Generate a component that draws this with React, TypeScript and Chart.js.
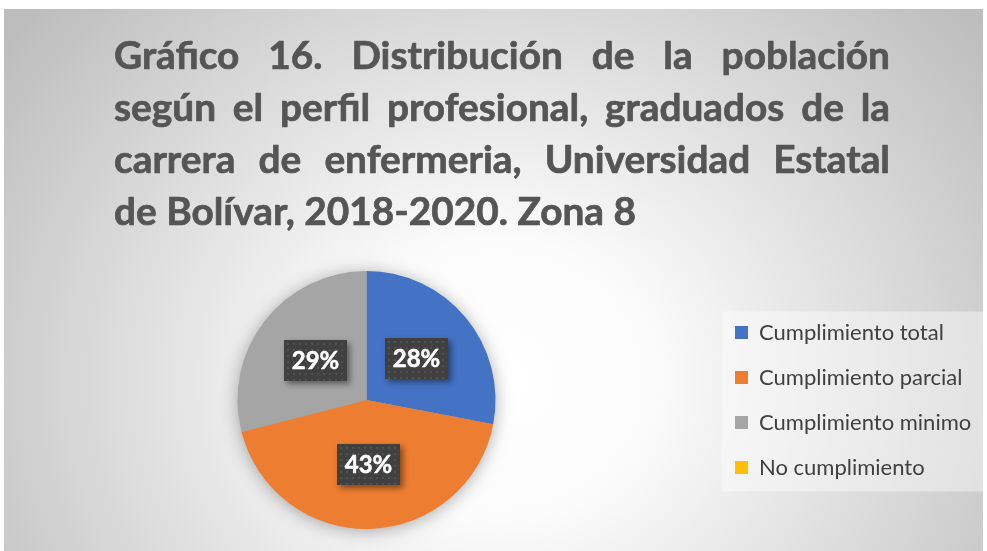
import React, { useEffect, useRef } from 'react';
import { Chart, registerables } from 'chart.js';

Chart.register(...registerables);

const categories = ['Cumplimiento total', 'Cumplimiento parcial', 'Cumplimiento minimo', 'No cumplimiento'];
const percentages = [28, 43, 29, 0];
const sliceColors = ['#4472C4', '#ED7D31', '#A5A5A5', '#FFC000'];
const titleLines = [
  'Gráfico 16. Distribución de la población',
  'según el perfil profesional, graduados de la',
  'carrera de enfermeria, Universidad Estatal',
  'de Bolívar, 2018-2020. Zona 8',
];

const W = 987;
const H = 551;
const FAMILY = 'Lato, "Open Sans", sans-serif';
const LEGEND_SIZE = 22;

const backgroundPlugin = {
  id: 'bgPlugin',
  beforeDraw(chart: any) {
    const ctx = chart.ctx;
    ctx.save();
    ctx.fillStyle = '#ffffff';
    ctx.fillRect(0, 0, W, H);
    ctx.beginPath();
    ctx.rect(4, 9, 979, 542);
    ctx.clip();
    const cx = 500, cy = 380, rx = 620, ry = 560;
    ctx.translate(cx, cy);
    ctx.scale(rx / ry, 1);
    const g = ctx.createRadialGradient(0, 0, 0, 0, 0, ry);
    g.addColorStop(0, '#ffffff');
    g.addColorStop(0.25, '#fbfbfb');
    g.addColorStop(1, '#bdbdbd');
    ctx.fillStyle = g;
    ctx.fillRect(-3000, -3000, 6000, 6000);
    ctx.restore();

    // legend background
    const lg = chart.legend;
    if (lg && lg.legendHitBoxes && lg.legendHitBoxes.length) {
      const hb = lg.legendHitBoxes;
      const first = hb[0];
      const last = hb[hb.length - 1];
      const left = first.left - 13;
      const top = first.top - 10;
      const bottom = last.top + last.height + 13;
      ctx.save();
      ctx.fillStyle = 'rgba(255,255,255,0.4)';
      ctx.fillRect(left, top, 983 - left, bottom - top);
      ctx.restore();
    }

    // title (justified)
    ctx.save();
    ctx.font = `bold 100px ${FAMILY}`;
    const lastW = ctx.measureText(titleLines[titleLines.length - 1]).width;
    const size = Math.max(30, Math.min(39, (100 * 522) / lastW));
    ctx.font = `bold ${size}px ${FAMILY}`;
    ctx.fillStyle = '#555555';
    ctx.strokeStyle = '#555555';
    ctx.lineWidth = 0.7;
    ctx.lineJoin = 'round';
    ctx.textBaseline = 'alphabetic';
    ctx.textAlign = 'left';
    const left = 114, right = 890, base0 = 69, lh = 52;
    titleLines.forEach((line, i) => {
      const y = base0 + i * lh;
      if (i === titleLines.length - 1) {
        ctx.fillText(line, left, y);
        ctx.strokeText(line, left, y);
        return;
      }
      const words = line.split(' ');
      const total = words.reduce((s, w) => s + ctx.measureText(w).width, 0);
      const gap = (right - left - total) / (words.length - 1);
      let x = left;
      words.forEach((w) => {
        ctx.fillText(w, x, y);
        ctx.strokeText(w, x, y);
        x += ctx.measureText(w).width + gap;
      });
    });
    ctx.restore();
  },
  beforeDatasetsDraw(chart: any) {
    const meta = chart.getDatasetMeta(0);
    const arc = meta.data[0];
    if (!arc) return;
    const { x, y, outerRadius } = arc.getProps(['x', 'y', 'outerRadius'], true);
    const ctx = chart.ctx;
    ctx.save();
    ctx.shadowColor = 'rgba(0,0,0,0.35)';
    ctx.shadowBlur = 18;
    ctx.shadowOffsetY = 2;
    ctx.fillStyle = '#a5a5a5';
    ctx.beginPath();
    ctx.arc(x, y, outerRadius - 1, 0, Math.PI * 2);
    ctx.fill();
    ctx.restore();
  },
  afterDatasetsDraw(chart: any) {
    const ctx = chart.ctx;
    const meta = chart.getDatasetMeta(0);
    meta.data.forEach((arc: any, i: number) => {
      const v = percentages[i];
      if (!v) return;
      const { x, y } = arc.tooltipPosition(true);
      const w = 63, h = 41;
      const bx = Math.round(x - w / 2);
      const by = Math.round(y - h / 2);
      ctx.save();
      ctx.shadowColor = 'rgba(0,0,0,0.45)';
      ctx.shadowBlur = 6;
      ctx.shadowOffsetX = 3;
      ctx.shadowOffsetY = 3;
      ctx.fillStyle = '#404040';
      ctx.fillRect(bx, by, w, h);
      ctx.restore();
      ctx.save();
      ctx.fillStyle = 'rgba(255,255,255,0.09)';
      for (let yy = by + 3; yy < by + h - 1; yy += 6) {
        for (let xx = bx + 3; xx < bx + w - 1; xx += 6) {
          ctx.fillRect(xx, yy, 2, 2);
        }
      }
      ctx.fillStyle = '#ffffff';
      ctx.strokeStyle = '#ffffff';
      ctx.lineWidth = 0.5;
      ctx.font = `bold 24px ${FAMILY}`;
      ctx.textAlign = 'center';
      ctx.textBaseline = 'middle';
      ctx.fillText(`${v}%`, bx + w / 2, by + h / 2 + 1);
      ctx.strokeText(`${v}%`, bx + w / 2, by + h / 2 + 1);
      ctx.restore();
    });
  },
};

export default function App() {
  const ref = useRef<HTMLCanvasElement | null>(null);
  useEffect(() => {
    if (!ref.current) return;
    const mctx = document.createElement('canvas').getContext('2d') as CanvasRenderingContext2D;
    mctx.font = `${LEGEND_SIZE}px ${FAMILY}`;
    const maxText = Math.max(...categories.map((c) => mctx.measureText(c).width));
    const colWidth = 13 + LEGEND_SIZE / 2 + maxText;
    const rightPad = Math.max(0, W - (735 + colWidth + 10));
    const chart = new Chart(ref.current, {
      type: 'pie',
      data: {
        labels: categories,
        datasets: [
          {
            data: percentages,
            backgroundColor: sliceColors,
            borderWidth: 0,
          },
        ],
      },
      options: {
        responsive: false,
        animation: false,
        devicePixelRatio: 1,
        layout: { padding: { top: 271, bottom: 22, left: 21, right: rightPad } },
        plugins: {
          tooltip: { enabled: false },
          title: { display: false },
          legend: {
            position: 'right',
            labels: {
              boxWidth: 13,
              boxHeight: 13,
              padding: 23,
              color: '#404040',
              font: { family: FAMILY, size: LEGEND_SIZE },
            },
          },
        },
      } as any,
      plugins: [backgroundPlugin],
    });
    return () => chart.destroy();
  }, []);
  return (
    <div style={{ position: 'absolute', left: 0, top: 0, width: W, height: H }}>
      <canvas ref={ref} width={W} height={H} style={{ display: 'block' }} />
    </div>
  );
}
